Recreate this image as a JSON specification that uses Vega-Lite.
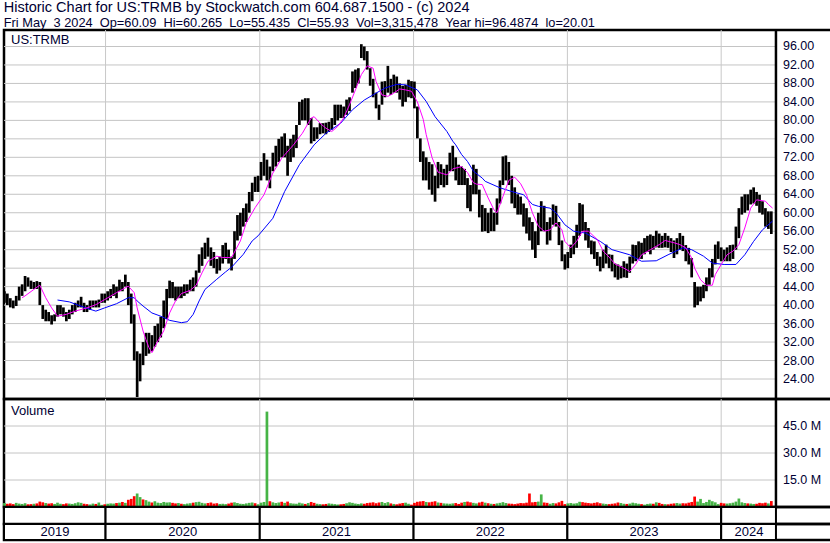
{
"$schema": "https://vega.github.io/schema/vega-lite/v6.json",
"padding": {"left": 0, "top": 0, "right": 0, "bottom": 0},
"background": "white",
"spacing": 0,
"bounds": "flush",
"title": {"text": "Historic Chart for US:TRMB by Stockwatch.com 604.687.1500 - (c) 2024", "subtitle": "Fri May \u00a03 2024 \u00a0Op=60.09 \u00a0Hi=60.265 \u00a0Lo=55.435 \u00a0Cl=55.93 \u00a0Vol=3,315,478 \u00a0Year hi=96.4874 \u00a0lo=20.01", "anchor": "start", "frame": "bounds", "font": "Liberation Sans", "fontSize": 14.5, "lineHeight": 15, "fontWeight": "normal", "color": "#000033", "subtitleFont": "Liberation Sans", "subtitleFontSize": 12.8, "subtitleLineHeight": 13, "subtitleColor": "#000033", "subtitlePadding": 1, "offset": -3, "dx": 3},
"config": {"view": {"stroke": "black", "strokeWidth": 2.5}, "axis": {"labelOverlap": false, "grid": false}},
"resolve": {"scale": {"x": "independent", "y": "independent", "color": "independent"}},
"datasets": {
"px": [
{"d":"2019-05-06","lo":40.5,"hi":43,"v":2.2,"c":"g"},
{"d":"2019-05-13","lo":40,"hi":42.5,"v":1.8,"c":"r"},
{"d":"2019-05-20","lo":39.5,"hi":41.5,"v":2,"c":"r"},
{"d":"2019-05-27","lo":39.3,"hi":41,"v":1.6,"c":"r"},
{"d":"2019-06-03","lo":39.8,"hi":42,"v":2.3,"c":"g"},
{"d":"2019-06-10","lo":41,"hi":44,"v":1.9,"c":"g"},
{"d":"2019-06-17","lo":42,"hi":44.5,"v":1.7,"c":"g"},
{"d":"2019-06-24","lo":43,"hi":46.3,"v":2.1,"c":"g"},
{"d":"2019-07-01","lo":44,"hi":46,"v":1.5,"c":"r"},
{"d":"2019-07-08","lo":43.5,"hi":45.3,"v":1.6,"c":"r"},
{"d":"2019-07-15","lo":43.5,"hi":45,"v":1.8,"c":"g"},
{"d":"2019-07-22","lo":43.5,"hi":45.2,"v":2,"c":"r"},
{"d":"2019-07-29","lo":40,"hi":45,"v":3,"c":"r"},
{"d":"2019-08-05","lo":37,"hi":40,"v":2.6,"c":"r"},
{"d":"2019-08-12","lo":36.5,"hi":39,"v":2.2,"c":"g"},
{"d":"2019-08-19","lo":36.5,"hi":38.5,"v":1.9,"c":"r"},
{"d":"2019-08-26","lo":35.8,"hi":37.8,"v":2.1,"c":"r"},
{"d":"2019-09-02","lo":36.5,"hi":38,"v":1.7,"c":"g"},
{"d":"2019-09-09","lo":37.5,"hi":40,"v":2.4,"c":"g"},
{"d":"2019-09-16","lo":38,"hi":40,"v":1.8,"c":"g"},
{"d":"2019-09-23","lo":37.5,"hi":39.5,"v":1.6,"c":"r"},
{"d":"2019-09-30","lo":36.5,"hi":38.5,"v":2,"c":"r"},
{"d":"2019-10-07","lo":37,"hi":39,"v":1.9,"c":"g"},
{"d":"2019-10-14","lo":38,"hi":40,"v":1.7,"c":"g"},
{"d":"2019-10-21","lo":38.5,"hi":40.5,"v":2.1,"c":"g"},
{"d":"2019-10-28","lo":39.5,"hi":41,"v":2.6,"c":"g"},
{"d":"2019-11-04","lo":39.5,"hi":41.8,"v":2.3,"c":"g"},
{"d":"2019-11-11","lo":38.5,"hi":40.5,"v":1.8,"c":"r"},
{"d":"2019-11-18","lo":38.5,"hi":40,"v":1.6,"c":"r"},
{"d":"2019-11-25","lo":39,"hi":41,"v":1.4,"c":"g"},
{"d":"2019-12-02","lo":39.5,"hi":41,"v":1.9,"c":"g"},
{"d":"2019-12-09","lo":39.5,"hi":41,"v":1.7,"c":"r"},
{"d":"2019-12-16","lo":39.5,"hi":41.2,"v":2.5,"c":"g"},
{"d":"2019-12-23","lo":40.5,"hi":42.5,"v":1.2,"c":"g"},
{"d":"2019-12-30","lo":40.5,"hi":42.5,"v":1.5,"c":"r"},
{"d":"2020-01-06","lo":41,"hi":43,"v":1.8,"c":"g"},
{"d":"2020-01-13","lo":41.5,"hi":43.5,"v":2,"c":"g"},
{"d":"2020-01-20","lo":42,"hi":44.5,"v":1.9,"c":"g"},
{"d":"2020-01-27","lo":41.5,"hi":44,"v":2.2,"c":"r"},
{"d":"2020-02-03","lo":43,"hi":45.5,"v":2.4,"c":"g"},
{"d":"2020-02-10","lo":43,"hi":45,"v":2.8,"c":"r"},
{"d":"2020-02-17","lo":44,"hi":46.6,"v":2.3,"c":"g"},
{"d":"2020-02-24","lo":40,"hi":45,"v":4,"c":"r"},
{"d":"2020-03-02","lo":36,"hi":42.5,"v":4.5,"c":"r"},
{"d":"2020-03-09","lo":28,"hi":38,"v":6,"c":"r"},
{"d":"2020-03-16","lo":20.1,"hi":30,"v":7.5,"c":"g"},
{"d":"2020-03-23","lo":23.5,"hi":29.5,"v":5.5,"c":"g"},
{"d":"2020-03-30","lo":27,"hi":32,"v":4.2,"c":"r"},
{"d":"2020-04-06","lo":29,"hi":34,"v":3.8,"c":"g"},
{"d":"2020-04-13","lo":29.5,"hi":34,"v":3,"c":"g"},
{"d":"2020-04-20","lo":30,"hi":33.5,"v":2.5,"c":"r"},
{"d":"2020-04-27","lo":31,"hi":35.5,"v":3.2,"c":"g"},
{"d":"2020-05-04","lo":32,"hi":36,"v":2.4,"c":"g"},
{"d":"2020-05-11","lo":33,"hi":37.5,"v":2.2,"c":"g"},
{"d":"2020-05-18","lo":35,"hi":41,"v":2.8,"c":"g"},
{"d":"2020-05-25","lo":37,"hi":43.5,"v":2.5,"c":"g"},
{"d":"2020-06-01","lo":41.5,"hi":45.3,"v":2.6,"c":"g"},
{"d":"2020-06-08","lo":41.5,"hi":45,"v":2.3,"c":"r"},
{"d":"2020-06-15","lo":41,"hi":44,"v":2,"c":"r"},
{"d":"2020-06-22","lo":41.5,"hi":44,"v":2.2,"c":"g"},
{"d":"2020-06-29","lo":41.5,"hi":44,"v":1.8,"c":"r"},
{"d":"2020-07-06","lo":42,"hi":44.5,"v":1.6,"c":"g"},
{"d":"2020-07-13","lo":42.5,"hi":44.5,"v":1.9,"c":"g"},
{"d":"2020-07-20","lo":43,"hi":45.5,"v":2.1,"c":"g"},
{"d":"2020-07-27","lo":43,"hi":46,"v":2.4,"c":"r"},
{"d":"2020-08-03","lo":44,"hi":47.5,"v":2.7,"c":"g"},
{"d":"2020-08-10","lo":47,"hi":51,"v":2.9,"c":"g"},
{"d":"2020-08-17","lo":48.5,"hi":52.5,"v":2.3,"c":"g"},
{"d":"2020-08-24","lo":50,"hi":53.5,"v":2,"c":"g"},
{"d":"2020-08-31","lo":50.5,"hi":54.6,"v":2.2,"c":"r"},
{"d":"2020-09-07","lo":48.5,"hi":52.5,"v":2.5,"c":"r"},
{"d":"2020-09-14","lo":48,"hi":51.5,"v":1.9,"c":"r"},
{"d":"2020-09-21","lo":46.8,"hi":50,"v":2.1,"c":"r"},
{"d":"2020-09-28","lo":47.5,"hi":50.5,"v":1.7,"c":"g"},
{"d":"2020-10-05","lo":49,"hi":53,"v":1.8,"c":"g"},
{"d":"2020-10-12","lo":50,"hi":53.5,"v":1.6,"c":"g"},
{"d":"2020-10-19","lo":49,"hi":52,"v":1.9,"c":"r"},
{"d":"2020-10-26","lo":47.5,"hi":50.5,"v":2.4,"c":"r"},
{"d":"2020-11-02","lo":50,"hi":56,"v":2.6,"c":"g"},
{"d":"2020-11-09","lo":54,"hi":59.5,"v":2.2,"c":"g"},
{"d":"2020-11-16","lo":55,"hi":60,"v":1.8,"c":"g"},
{"d":"2020-11-23","lo":57,"hi":61,"v":1.7,"c":"g"},
{"d":"2020-11-30","lo":58,"hi":62,"v":2,"c":"g"},
{"d":"2020-12-07","lo":60,"hi":64.5,"v":2.3,"c":"g"},
{"d":"2020-12-14","lo":62.5,"hi":66.5,"v":2.5,"c":"g"},
{"d":"2020-12-21","lo":64.5,"hi":67.8,"v":2.1,"c":"r"},
{"d":"2020-12-28","lo":64.5,"hi":68,"v":1.5,"c":"g"},
{"d":"2021-01-04","lo":67,"hi":71,"v":2.4,"c":"g"},
{"d":"2021-01-11","lo":68,"hi":72.9,"v":2.8,"c":"g"},
{"d":"2021-01-18","lo":67,"hi":71.5,"v":53,"c":"g"},
{"d":"2021-01-25","lo":65.3,"hi":70,"v":3.2,"c":"r"},
{"d":"2021-02-01","lo":69,"hi":73,"v":2.6,"c":"g"},
{"d":"2021-02-08","lo":70,"hi":74.5,"v":2.2,"c":"g"},
{"d":"2021-02-15","lo":71,"hi":76,"v":2.5,"c":"g"},
{"d":"2021-02-22","lo":72,"hi":76.5,"v":2.9,"c":"r"},
{"d":"2021-03-01","lo":72,"hi":77.2,"v":2.3,"c":"g"},
{"d":"2021-03-08","lo":68,"hi":74.5,"v":3,"c":"r"},
{"d":"2021-03-15","lo":71,"hi":76,"v":2.1,"c":"g"},
{"d":"2021-03-22","lo":72,"hi":76.9,"v":1.9,"c":"g"},
{"d":"2021-03-29","lo":74,"hi":79,"v":1.8,"c":"g"},
{"d":"2021-04-05","lo":79,"hi":84,"v":2.4,"c":"g"},
{"d":"2021-04-12","lo":80,"hi":84.5,"v":2,"c":"g"},
{"d":"2021-04-19","lo":80,"hi":84.8,"v":1.7,"c":"r"},
{"d":"2021-04-26","lo":79,"hi":84.8,"v":2.2,"c":"g"},
{"d":"2021-05-03","lo":75,"hi":80.5,"v":2.8,"c":"r"},
{"d":"2021-05-10","lo":75.5,"hi":78.5,"v":2.3,"c":"r"},
{"d":"2021-05-17","lo":76,"hi":78.5,"v":1.8,"c":"g"},
{"d":"2021-05-24","lo":77,"hi":79.4,"v":1.6,"c":"g"},
{"d":"2021-05-31","lo":77.2,"hi":79.4,"v":1.5,"c":"r"},
{"d":"2021-06-07","lo":77,"hi":79.5,"v":1.7,"c":"r"},
{"d":"2021-06-14","lo":77.5,"hi":79.7,"v":2,"c":"g"},
{"d":"2021-06-21","lo":78,"hi":80.5,"v":1.8,"c":"g"},
{"d":"2021-06-28","lo":79,"hi":83.4,"v":1.6,"c":"g"},
{"d":"2021-07-05","lo":80,"hi":83.4,"v":1.4,"c":"g"},
{"d":"2021-07-12","lo":80.5,"hi":83.4,"v":1.5,"c":"r"},
{"d":"2021-07-19","lo":80.5,"hi":83,"v":1.7,"c":"r"},
{"d":"2021-07-26","lo":81.2,"hi":84.5,"v":2.1,"c":"g"},
{"d":"2021-08-02","lo":82,"hi":85,"v":2.6,"c":"g"},
{"d":"2021-08-09","lo":86,"hi":90.6,"v":2.3,"c":"g"},
{"d":"2021-08-16","lo":87,"hi":91,"v":1.9,"c":"g"},
{"d":"2021-08-23","lo":88,"hi":91.3,"v":1.7,"c":"g"},
{"d":"2021-08-30","lo":93.5,"hi":96.5,"v":2,"c":"g"},
{"d":"2021-09-06","lo":93,"hi":96,"v":1.8,"c":"r"},
{"d":"2021-09-13","lo":91,"hi":95,"v":2.2,"c":"r"},
{"d":"2021-09-20","lo":87.5,"hi":91.3,"v":2.4,"c":"r"},
{"d":"2021-09-27","lo":85,"hi":89,"v":2.6,"c":"r"},
{"d":"2021-10-04","lo":82.6,"hi":86,"v":2.1,"c":"r"},
{"d":"2021-10-11","lo":80.1,"hi":83.4,"v":2.5,"c":"r"},
{"d":"2021-10-18","lo":83.4,"hi":88.4,"v":2.8,"c":"g"},
{"d":"2021-10-25","lo":85,"hi":88.5,"v":2.2,"c":"g"},
{"d":"2021-11-01","lo":86,"hi":91.8,"v":2.7,"c":"g"},
{"d":"2021-11-08","lo":85.5,"hi":89,"v":2,"c":"r"},
{"d":"2021-11-15","lo":86,"hi":89.9,"v":1.7,"c":"g"},
{"d":"2021-11-22","lo":86,"hi":89.5,"v":1.5,"c":"r"},
{"d":"2021-11-29","lo":84.5,"hi":88,"v":1.9,"c":"r"},
{"d":"2021-12-06","lo":83,"hi":87.5,"v":2.2,"c":"r"},
{"d":"2021-12-13","lo":84,"hi":87.7,"v":2.4,"c":"g"},
{"d":"2021-12-20","lo":85,"hi":88.8,"v":1.8,"c":"g"},
{"d":"2021-12-27","lo":84.8,"hi":88.5,"v":1.3,"c":"r"},
{"d":"2022-01-03","lo":82.6,"hi":88.4,"v":2.3,"c":"r"},
{"d":"2022-01-10","lo":76.1,"hi":83,"v":2.9,"c":"r"},
{"d":"2022-01-17","lo":71,"hi":76.1,"v":3.1,"c":"r"},
{"d":"2022-01-24","lo":67,"hi":73.3,"v":3.3,"c":"r"},
{"d":"2022-01-31","lo":67,"hi":72,"v":2.8,"c":"g"},
{"d":"2022-02-07","lo":65,"hi":71,"v":2.6,"c":"r"},
{"d":"2022-02-14","lo":63.9,"hi":70.5,"v":2.9,"c":"r"},
{"d":"2022-02-21","lo":62.4,"hi":68,"v":3.2,"c":"r"},
{"d":"2022-02-28","lo":65.3,"hi":71,"v":2.5,"c":"g"},
{"d":"2022-03-07","lo":66,"hi":70.5,"v":2.3,"c":"r"},
{"d":"2022-03-14","lo":65.5,"hi":69.5,"v":2,"c":"g"},
{"d":"2022-03-21","lo":66,"hi":70.4,"v":1.9,"c":"g"},
{"d":"2022-03-28","lo":69,"hi":73,"v":1.8,"c":"g"},
{"d":"2022-04-04","lo":69,"hi":74.5,"v":2,"c":"g"},
{"d":"2022-04-11","lo":67,"hi":72,"v":2.2,"c":"r"},
{"d":"2022-04-18","lo":66,"hi":70.4,"v":1.7,"c":"r"},
{"d":"2022-04-25","lo":66,"hi":70,"v":2.4,"c":"r"},
{"d":"2022-05-02","lo":66,"hi":69.5,"v":2.8,"c":"g"},
{"d":"2022-05-09","lo":61,"hi":67.5,"v":3,"c":"r"},
{"d":"2022-05-16","lo":60.3,"hi":66,"v":2.6,"c":"r"},
{"d":"2022-05-23","lo":64,"hi":70.4,"v":2.3,"c":"g"},
{"d":"2022-05-30","lo":64,"hi":69.5,"v":2,"c":"g"},
{"d":"2022-06-06","lo":59,"hi":65,"v":2.5,"c":"r"},
{"d":"2022-06-13","lo":55.9,"hi":61.7,"v":2.9,"c":"r"},
{"d":"2022-06-20","lo":56,"hi":61,"v":2.4,"c":"g"},
{"d":"2022-06-27","lo":55.6,"hi":60,"v":2.1,"c":"r"},
{"d":"2022-07-04","lo":56,"hi":61,"v":1.8,"c":"g"},
{"d":"2022-07-11","lo":56,"hi":60,"v":1.7,"c":"r"},
{"d":"2022-07-18","lo":57.4,"hi":63.1,"v":2,"c":"g"},
{"d":"2022-07-25","lo":62,"hi":67,"v":2.3,"c":"g"},
{"d":"2022-08-01","lo":66,"hi":72.2,"v":2.7,"c":"g"},
{"d":"2022-08-08","lo":67,"hi":72.4,"v":2.2,"c":"g"},
{"d":"2022-08-15","lo":66,"hi":71,"v":1.9,"c":"r"},
{"d":"2022-08-22","lo":62,"hi":68,"v":1.8,"c":"r"},
{"d":"2022-08-29","lo":61,"hi":65.5,"v":1.6,"c":"r"},
{"d":"2022-09-05","lo":59.6,"hi":64,"v":1.9,"c":"r"},
{"d":"2022-09-12","lo":59.6,"hi":63.5,"v":2.2,"c":"r"},
{"d":"2022-09-19","lo":57,"hi":62,"v":2.1,"c":"r"},
{"d":"2022-09-26","lo":55.5,"hi":61,"v":2.4,"c":"r"},
{"d":"2022-10-03","lo":54,"hi":59,"v":7.5,"c":"r"},
{"d":"2022-10-10","lo":52,"hi":58,"v":2.6,"c":"r"},
{"d":"2022-10-17","lo":50.2,"hi":56,"v":2.8,"c":"r"},
{"d":"2022-10-24","lo":53,"hi":60,"v":3,"c":"g"},
{"d":"2022-10-31","lo":56,"hi":62.5,"v":7,"c":"g"},
{"d":"2022-11-07","lo":56,"hi":61.5,"v":2.5,"c":"r"},
{"d":"2022-11-14","lo":53.1,"hi":58,"v":2.3,"c":"r"},
{"d":"2022-11-21","lo":54,"hi":59,"v":1.8,"c":"g"},
{"d":"2022-11-28","lo":57.4,"hi":61.8,"v":2.2,"c":"g"},
{"d":"2022-12-05","lo":57,"hi":61.5,"v":2,"c":"r"},
{"d":"2022-12-12","lo":53,"hi":58,"v":2.6,"c":"r"},
{"d":"2022-12-19","lo":49.5,"hi":54,"v":3.4,"c":"r"},
{"d":"2022-12-26","lo":47.7,"hi":51,"v":1.6,"c":"r"},
{"d":"2023-01-02","lo":48,"hi":51.5,"v":2,"c":"g"},
{"d":"2023-01-09","lo":50.2,"hi":53.1,"v":2.2,"c":"g"},
{"d":"2023-01-16","lo":51,"hi":55,"v":1.9,"c":"g"},
{"d":"2023-01-23","lo":52.4,"hi":57.4,"v":2.1,"c":"g"},
{"d":"2023-01-30","lo":55,"hi":62.1,"v":2.9,"c":"g"},
{"d":"2023-02-06","lo":56,"hi":61.8,"v":2.7,"c":"r"},
{"d":"2023-02-13","lo":54,"hi":58,"v":2.4,"c":"r"},
{"d":"2023-02-20","lo":52.4,"hi":56.7,"v":2.2,"c":"r"},
{"d":"2023-02-27","lo":51,"hi":54,"v":2,"c":"r"},
{"d":"2023-03-06","lo":50,"hi":53.8,"v":2.3,"c":"r"},
{"d":"2023-03-13","lo":48.5,"hi":51.5,"v":2.6,"c":"r"},
{"d":"2023-03-20","lo":47.3,"hi":50.5,"v":2.1,"c":"r"},
{"d":"2023-03-27","lo":48,"hi":52,"v":1.9,"c":"g"},
{"d":"2023-04-03","lo":49,"hi":53.1,"v":1.7,"c":"g"},
{"d":"2023-04-10","lo":48,"hi":51,"v":1.6,"c":"r"},
{"d":"2023-04-17","lo":47.3,"hi":50.9,"v":1.8,"c":"r"},
{"d":"2023-04-24","lo":46,"hi":49,"v":2,"c":"r"},
{"d":"2023-05-01","lo":45.5,"hi":48.8,"v":2.5,"c":"r"},
{"d":"2023-05-08","lo":45.8,"hi":48.5,"v":2.2,"c":"g"},
{"d":"2023-05-15","lo":46,"hi":49.5,"v":1.8,"c":"g"},
{"d":"2023-05-22","lo":45.9,"hi":49,"v":1.7,"c":"r"},
{"d":"2023-05-29","lo":47,"hi":50.5,"v":1.9,"c":"g"},
{"d":"2023-06-05","lo":49,"hi":53.1,"v":2.4,"c":"g"},
{"d":"2023-06-12","lo":49.5,"hi":53,"v":2.1,"c":"g"},
{"d":"2023-06-19","lo":50,"hi":53.8,"v":1.8,"c":"g"},
{"d":"2023-06-26","lo":50,"hi":53.5,"v":1.6,"c":"r"},
{"d":"2023-07-03","lo":51,"hi":54.5,"v":1.3,"c":"g"},
{"d":"2023-07-10","lo":51.5,"hi":55,"v":1.7,"c":"g"},
{"d":"2023-07-17","lo":51,"hi":55.3,"v":1.9,"c":"g"},
{"d":"2023-07-24","lo":52,"hi":55,"v":1.8,"c":"r"},
{"d":"2023-07-31","lo":52.5,"hi":56.1,"v":2.6,"c":"g"},
{"d":"2023-08-07","lo":52.4,"hi":55.5,"v":2.3,"c":"r"},
{"d":"2023-08-14","lo":52.4,"hi":55,"v":1.7,"c":"r"},
{"d":"2023-08-21","lo":52.5,"hi":55.6,"v":1.6,"c":"g"},
{"d":"2023-08-28","lo":52.4,"hi":55,"v":1.5,"c":"r"},
{"d":"2023-09-04","lo":51.5,"hi":54.5,"v":1.8,"c":"r"},
{"d":"2023-09-11","lo":50.2,"hi":54,"v":2,"c":"r"},
{"d":"2023-09-18","lo":51,"hi":54.5,"v":2.2,"c":"g"},
{"d":"2023-09-25","lo":52,"hi":55.6,"v":1.9,"c":"g"},
{"d":"2023-10-02","lo":51.7,"hi":55,"v":2.1,"c":"r"},
{"d":"2023-10-09","lo":49.5,"hi":53,"v":2,"c":"r"},
{"d":"2023-10-16","lo":48.8,"hi":52.4,"v":2.4,"c":"r"},
{"d":"2023-10-23","lo":46,"hi":50.2,"v":2.8,"c":"r"},
{"d":"2023-10-30","lo":39.5,"hi":45,"v":5.8,"c":"r"},
{"d":"2023-11-06","lo":40,"hi":44,"v":3,"c":"g"},
{"d":"2023-11-13","lo":40.8,"hi":44,"v":4.5,"c":"g"},
{"d":"2023-11-20","lo":41.5,"hi":44.4,"v":2.2,"c":"g"},
{"d":"2023-11-27","lo":43,"hi":46,"v":2.8,"c":"g"},
{"d":"2023-12-04","lo":44.4,"hi":48,"v":4,"c":"g"},
{"d":"2023-12-11","lo":46,"hi":50,"v":3.2,"c":"g"},
{"d":"2023-12-18","lo":48.8,"hi":53.1,"v":2.6,"c":"g"},
{"d":"2023-12-25","lo":50,"hi":53.8,"v":1.6,"c":"g"},
{"d":"2024-01-01","lo":49.5,"hi":52.5,"v":2.3,"c":"r"},
{"d":"2024-01-08","lo":49.5,"hi":52,"v":2,"c":"r"},
{"d":"2024-01-15","lo":49.5,"hi":52.5,"v":1.9,"c":"g"},
{"d":"2024-01-22","lo":49.5,"hi":53,"v":2.1,"c":"g"},
{"d":"2024-01-29","lo":50,"hi":53.1,"v":2.4,"c":"g"},
{"d":"2024-02-05","lo":52,"hi":57,"v":3,"c":"g"},
{"d":"2024-02-12","lo":54.5,"hi":61,"v":4.7,"c":"g"},
{"d":"2024-02-19","lo":59.6,"hi":63.5,"v":2.6,"c":"g"},
{"d":"2024-02-26","lo":60,"hi":64,"v":2.2,"c":"g"},
{"d":"2024-03-04","lo":60.5,"hi":64,"v":2,"c":"r"},
{"d":"2024-03-11","lo":61.8,"hi":65,"v":1.9,"c":"g"},
{"d":"2024-03-18","lo":62,"hi":65.5,"v":1.7,"c":"g"},
{"d":"2024-03-25","lo":61.5,"hi":64.5,"v":1.8,"c":"r"},
{"d":"2024-04-01","lo":60,"hi":63.9,"v":2.3,"c":"r"},
{"d":"2024-04-08","lo":59.6,"hi":62.5,"v":2.1,"c":"r"},
{"d":"2024-04-15","lo":57,"hi":61,"v":2.4,"c":"r"},
{"d":"2024-04-22","lo":56.5,"hi":60.3,"v":2,"c":"g"},
{"d":"2024-04-29","lo":55.4,"hi":60.3,"v":3.3,"c":"r"}
],
"ma1": [
{"d":"2019-06-17","v":41.6},{"d":"2019-06-24","v":42},{"d":"2019-07-15","v":43.4},{"d":"2019-07-29","v":44.3},{"d":"2019-08-12","v":41.6},{"d":"2019-08-26","v":39.4},{"d":"2019-09-09","v":37.6},{"d":"2019-09-30","v":38},{"d":"2019-10-21","v":38.7},{"d":"2019-11-18","v":39.4},{"d":"2019-12-09","v":40.1},{"d":"2019-12-30","v":41.2},{"d":"2020-01-27","v":42.7},{"d":"2020-02-24","v":44.1},{"d":"2020-03-09","v":42.7},{"d":"2020-03-16","v":39.4},{"d":"2020-03-30","v":34.4},{"d":"2020-04-06","v":32.5},{"d":"2020-04-13","v":30.8},{"d":"2020-04-20","v":29.7},{"d":"2020-05-04","v":32.2},{"d":"2020-05-18","v":34.4},{"d":"2020-06-01","v":38.3},{"d":"2020-06-15","v":40.9},{"d":"2020-06-29","v":42.5},{"d":"2020-07-20","v":43.2},{"d":"2020-08-03","v":44.3},{"d":"2020-08-17","v":47},{"d":"2020-08-31","v":49.5},{"d":"2020-09-21","v":50.6},{"d":"2020-10-05","v":50.3},{"d":"2020-10-26","v":50.3},{"d":"2020-11-16","v":53.9},{"d":"2020-11-30","v":57.8},{"d":"2020-12-21","v":61.1},{"d":"2021-01-11","v":63.9},{"d":"2021-02-01","v":68.6},{"d":"2021-02-22","v":71.8},{"d":"2021-03-22","v":74.7},{"d":"2021-04-12","v":77.2},{"d":"2021-05-03","v":80.5},{"d":"2021-05-10","v":80.8},{"d":"2021-05-24","v":79.4},{"d":"2021-06-07","v":78.3},{"d":"2021-06-21","v":77.6},{"d":"2021-07-05","v":78.7},{"d":"2021-07-19","v":80.5},{"d":"2021-08-02","v":83.4},{"d":"2021-08-16","v":86.6},{"d":"2021-08-30","v":89.9},{"d":"2021-09-13","v":91.8},{"d":"2021-09-27","v":91.3},{"d":"2021-10-04","v":88.4},{"d":"2021-10-18","v":85.5},{"d":"2021-11-01","v":85.2},{"d":"2021-11-15","v":85.9},{"d":"2021-11-29","v":86.8},{"d":"2021-12-13","v":86.6},{"d":"2021-12-27","v":86.3},{"d":"2022-01-10","v":84},{"d":"2022-01-24","v":80.2},{"d":"2022-01-31","v":76.9},{"d":"2022-02-14","v":71.9},{"d":"2022-02-28","v":68.8},{"d":"2022-03-21","v":68.2},{"d":"2022-04-04","v":69.5},{"d":"2022-04-25","v":70},{"d":"2022-05-09","v":68.7},{"d":"2022-05-23","v":66.5},{"d":"2022-05-30","v":66.2},{"d":"2022-06-13","v":66.1},{"d":"2022-06-27","v":63.2},{"d":"2022-07-11","v":60.6},{"d":"2022-07-18","v":60},{"d":"2022-08-01","v":63.5},{"d":"2022-08-15","v":67},{"d":"2022-08-29","v":67.7},{"d":"2022-09-12","v":66.3},{"d":"2022-09-26","v":63.9},{"d":"2022-10-10","v":60},{"d":"2022-10-24","v":57.1},{"d":"2022-11-07","v":56},{"d":"2022-11-21","v":56.3},{"d":"2022-12-05","v":57.8},{"d":"2022-12-19","v":56.3},{"d":"2022-12-26","v":53.8},{"d":"2023-01-09","v":52.4},{"d":"2023-01-23","v":53.8},{"d":"2023-02-06","v":56},{"d":"2023-02-20","v":56},{"d":"2023-03-13","v":54.2},{"d":"2023-03-27","v":51.7},{"d":"2023-04-10","v":50.4},{"d":"2023-04-24","v":48.9},{"d":"2023-05-15","v":48},{"d":"2023-05-29","v":47.3},{"d":"2023-06-12","v":48.8},{"d":"2023-06-26","v":50.9},{"d":"2023-07-17","v":52},{"d":"2023-08-07","v":53.1},{"d":"2023-08-21","v":54},{"d":"2023-09-11","v":53.5},{"d":"2023-09-25","v":53.1},{"d":"2023-10-09","v":52.4},{"d":"2023-10-23","v":50.2},{"d":"2023-10-30","v":48},{"d":"2023-11-13","v":45.5},{"d":"2023-11-27","v":44.3},{"d":"2023-12-11","v":44.3},{"d":"2023-12-18","v":46.6},{"d":"2024-01-01","v":48.8},{"d":"2024-01-15","v":50.9},{"d":"2024-01-29","v":51.7},{"d":"2024-02-12","v":53.1},{"d":"2024-02-26","v":56.7},{"d":"2024-03-11","v":61},{"d":"2024-03-25","v":62.8},{"d":"2024-04-15","v":62.5},{"d":"2024-04-22","v":61.8},{"d":"2024-05-02","v":61}
],
"ma2": [
{"d":"2019-09-09","v":41.1},{"d":"2019-10-07","v":40.7},{"d":"2019-10-28","v":40},{"d":"2019-11-25","v":39.1},{"d":"2019-12-09","v":38.7},{"d":"2019-12-30","v":39.4},{"d":"2020-01-27","v":40.3},{"d":"2020-02-24","v":41.6},{"d":"2020-03-09","v":41.6},{"d":"2020-03-16","v":40.9},{"d":"2020-03-30","v":39.8},{"d":"2020-04-20","v":38.3},{"d":"2020-05-11","v":37.6},{"d":"2020-06-01","v":36.7},{"d":"2020-06-29","v":36.2},{"d":"2020-07-13","v":36.4},{"d":"2020-07-27","v":38},{"d":"2020-08-10","v":40.9},{"d":"2020-08-24","v":43.4},{"d":"2020-09-21","v":45.6},{"d":"2020-10-12","v":47.2},{"d":"2020-10-26","v":48.2},{"d":"2020-11-23","v":51},{"d":"2020-12-14","v":53.9},{"d":"2020-12-28","v":55},{"d":"2021-02-01","v":58.8},{"d":"2021-03-01","v":64.6},{"d":"2021-04-05","v":70.4},{"d":"2021-05-10","v":74.7},{"d":"2021-06-07","v":77.2},{"d":"2021-07-12","v":79.4},{"d":"2021-08-09","v":82.3},{"d":"2021-09-06","v":84.4},{"d":"2021-10-04","v":85.9},{"d":"2021-10-25","v":87},{"d":"2021-11-22","v":87.8},{"d":"2021-12-13","v":87.7},{"d":"2022-01-10","v":86.6},{"d":"2022-01-31","v":84.1},{"d":"2022-02-21","v":80.8},{"d":"2022-03-21","v":77.6},{"d":"2022-04-04","v":75.5},{"d":"2022-04-11","v":74.7},{"d":"2022-04-25","v":72.6},{"d":"2022-05-09","v":71.1},{"d":"2022-05-23","v":69},{"d":"2022-06-13","v":67.5},{"d":"2022-06-20","v":66.8},{"d":"2022-07-25","v":65.4},{"d":"2022-08-22","v":64.6},{"d":"2022-09-19","v":63.9},{"d":"2022-10-10","v":61.8},{"d":"2022-10-24","v":61.4},{"d":"2022-11-21","v":61},{"d":"2022-12-05","v":60},{"d":"2022-12-26","v":57.4},{"d":"2023-01-16","v":56},{"d":"2023-02-13","v":55.6},{"d":"2023-03-20","v":53.8},{"d":"2023-04-17","v":52},{"d":"2023-05-29","v":50.9},{"d":"2023-06-26","v":49.5},{"d":"2023-07-31","v":49.6},{"d":"2023-08-28","v":50.9},{"d":"2023-10-02","v":52.4},{"d":"2023-10-23","v":52},{"d":"2023-11-20","v":50.6},{"d":"2023-12-11","v":49.1},{"d":"2024-01-08","v":48.8},{"d":"2024-02-05","v":48.8},{"d":"2024-02-26","v":50.9},{"d":"2024-03-18","v":53.8},{"d":"2024-04-08","v":56.3},{"d":"2024-05-02","v":58.2}
],
"pgrid": [{"g":24,"t":"24.00"},{"g":28,"t":"28.00"},{"g":32,"t":"32.00"},{"g":36,"t":"36.00"},{"g":40,"t":"40.00"},{"g":44,"t":"44.00"},{"g":48,"t":"48.00"},{"g":52,"t":"52.00"},{"g":56,"t":"56.00"},{"g":60,"t":"60.00"},{"g":64,"t":"64.00"},{"g":68,"t":"68.00"},{"g":72,"t":"72.00"},{"g":76,"t":"76.00"},{"g":80,"t":"80.00"},{"g":84,"t":"84.00"},{"g":88,"t":"88.00"},{"g":92,"t":"92.00"},{"g":96,"t":"96.00"}],
"pgl": [
{"g":24,"d":"2019-05-05"},{"g":24,"d":"2024-05-10"},{"g":28,"d":"2019-05-05"},{"g":28,"d":"2024-05-10"},{"g":32,"d":"2019-05-05"},{"g":32,"d":"2024-05-10"},{"g":36,"d":"2019-05-05"},{"g":36,"d":"2024-05-10"},{"g":40,"d":"2019-05-05"},{"g":40,"d":"2024-05-10"},{"g":44,"d":"2019-05-05"},{"g":44,"d":"2024-05-10"},{"g":48,"d":"2019-05-05"},{"g":48,"d":"2024-05-10"},{"g":52,"d":"2019-05-05"},{"g":52,"d":"2024-05-10"},{"g":56,"d":"2019-05-05"},{"g":56,"d":"2024-05-10"},{"g":60,"d":"2019-05-05"},{"g":60,"d":"2024-05-10"},{"g":64,"d":"2019-05-05"},{"g":64,"d":"2024-05-10"},{"g":68,"d":"2019-05-05"},{"g":68,"d":"2024-05-10"},{"g":72,"d":"2019-05-05"},{"g":72,"d":"2024-05-10"},{"g":76,"d":"2019-05-05"},{"g":76,"d":"2024-05-10"},{"g":80,"d":"2019-05-05"},{"g":80,"d":"2024-05-10"},{"g":84,"d":"2019-05-05"},{"g":84,"d":"2024-05-10"},{"g":88,"d":"2019-05-05"},{"g":88,"d":"2024-05-10"},{"g":92,"d":"2019-05-05"},{"g":92,"d":"2024-05-10"},{"g":96,"d":"2019-05-05"},{"g":96,"d":"2024-05-10"}
],
"vgrid": [{"g":15,"t":"15.0 M"},{"g":30,"t":"30.0 M"},{"g":45,"t":"45.0 M"}],
"vgl": [{"g":15,"d":"2019-05-05"},{"g":15,"d":"2024-05-10"},{"g":30,"d":"2019-05-05"},{"g":30,"d":"2024-05-10"},{"g":45,"d":"2019-05-05"},{"g":45,"d":"2024-05-10"}],
"ygrid": [{"s":"2020-01-01"},{"s":"2021-01-01"},{"s":"2022-01-01"},{"s":"2023-01-01"},{"s":"2024-01-01"}],
"yrs": [
{"s":"2019-05-05","e":"2020-01-01","m":"2019-09-03","y":"2019"},
{"s":"2020-01-01","e":"2021-01-01","m":"2020-07-02","y":"2020"},
{"s":"2021-01-01","e":"2022-01-01","m":"2021-07-02","y":"2021"},
{"s":"2022-01-01","e":"2023-01-01","m":"2022-07-02","y":"2022"},
{"s":"2023-01-01","e":"2024-01-01","m":"2023-07-02","y":"2023"},
{"s":"2024-01-01","e":"2024-05-10","m":"2024-03-07","y":"2024"}
]
},
"vconcat": [
{
"width": 828, "height": 369,
"layer": [
{"data": {"name": "pgl"}, "mark": {"type": "line", "color": "#c4c4c4", "strokeWidth": 1},
 "encoding": {
  "x": {"field": "d", "type": "temporal", "scale": {"domain": [{"year": 2019, "month": 5, "date": 5, "utc": true}, {"year": 2024, "month": 9, "date": 20, "utc": true}]}, "axis": null},
  "y": {"field": "g", "type": "quantitative", "scale": {"domain": [19.67, 99.57], "nice": false, "zero": false}, "axis": null},
  "detail": {"field": "g", "type": "nominal"}
 }},
{"data": {"name": "ygrid"}, "mark": {"type": "rule", "color": "#c8c8c8", "strokeWidth": 1},
 "encoding": {
  "x": {"field": "s", "type": "temporal"},
  "y": {"datum": 19.67, "type": "quantitative"},
  "y2": {"datum": 99.57}
 }},
{"data": {"name": "px"}, "mark": {"type": "rule", "strokeWidth": 2.7, "color": "black"},
 "encoding": {
  "x": {"field": "d", "type": "temporal"},
  "y": {"field": "lo", "type": "quantitative"},
  "y2": {"field": "hi"}
 }},
{"data": {"name": "ma2"}, "mark": {"type": "line", "color": "#0000ff", "strokeWidth": 1},
 "encoding": {"x": {"field": "d", "type": "temporal"}, "y": {"field": "v", "type": "quantitative"}}},
{"data": {"name": "ma1"}, "mark": {"type": "line", "color": "#ff00ff", "strokeWidth": 1},
 "encoding": {"x": {"field": "d", "type": "temporal"}, "y": {"field": "v", "type": "quantitative"}}},
{"data": {"values": [{"t": "edge"}]}, "mark": {"type": "rule", "color": "black", "strokeWidth": 2.5},
 "encoding": {"x": {"datum": {"year": 2024, "month": 5, "date": 10, "utc": true}, "type": "temporal"}, "y": {"datum": 19.67, "type": "quantitative"}, "y2": {"datum": 99.57}}},
{"data": {"name": "pgrid"}, "mark": {"type": "text", "align": "left", "baseline": "middle", "dx": 7, "font": "Liberation Sans", "fontSize": 12.5, "color": "#000033"},
 "encoding": {"x": {"datum": {"year": 2024, "month": 5, "date": 10, "utc": true}, "type": "temporal"}, "y": {"field": "g", "type": "quantitative"}, "text": {"field": "t"}}},
{"data": {"values": [{"t": "US:TRMB"}]}, "mark": {"type": "text", "align": "left", "baseline": "top", "dx": 7, "dy": 4, "font": "Liberation Sans", "fontSize": 13, "color": "#000033"},
 "encoding": {"x": {"datum": {"year": 2019, "month": 5, "date": 5, "utc": true}, "type": "temporal"}, "y": {"datum": 99.57, "type": "quantitative"}, "text": {"field": "t"}}}
]
},
{
"width": 828, "height": 108,
"layer": [
{"data": {"name": "vgl"}, "mark": {"type": "line", "color": "#c4c4c4", "strokeWidth": 1},
 "encoding": {
  "x": {"field": "d", "type": "temporal", "scale": {"domain": [{"year": 2019, "month": 5, "date": 5, "utc": true}, {"year": 2024, "month": 9, "date": 20, "utc": true}]}, "axis": null},
  "y": {"field": "g", "type": "quantitative", "scale": {"domain": [0, 60], "nice": false}, "axis": null},
  "detail": {"field": "g", "type": "nominal"}
 }},
{"data": {"name": "ygrid"}, "mark": {"type": "rule", "color": "#c8c8c8", "strokeWidth": 1},
 "encoding": {
  "x": {"field": "s", "type": "temporal"},
  "y": {"datum": 0, "type": "quantitative"},
  "y2": {"datum": 60}
 }},
{"data": {"name": "px"}, "mark": {"type": "rule", "strokeWidth": 2.7},
 "encoding": {
  "x": {"field": "d", "type": "temporal"},
  "y": {"field": "v", "type": "quantitative"},
  "y2": {"datum": 0},
  "color": {"field": "c", "type": "nominal", "scale": {"domain": ["g", "r"], "range": ["#46b446", "#ff0000"]}, "legend": null}
 }},
{"data": {"values": [{"t": "edge"}]}, "mark": {"type": "rule", "color": "black", "strokeWidth": 2.5},
 "encoding": {"x": {"datum": {"year": 2024, "month": 5, "date": 10, "utc": true}, "type": "temporal"}, "y": {"datum": 0, "type": "quantitative"}, "y2": {"datum": 60}}},
{"data": {"name": "vgrid"}, "mark": {"type": "text", "align": "left", "baseline": "middle", "dx": 7, "font": "Liberation Sans", "fontSize": 12.5, "color": "#000033"},
 "encoding": {"x": {"datum": {"year": 2024, "month": 5, "date": 10, "utc": true}, "type": "temporal"}, "y": {"field": "g", "type": "quantitative"}, "text": {"field": "t"}}},
{"data": {"values": [{"t": "Volume"}]}, "mark": {"type": "text", "align": "left", "baseline": "top", "dx": 7, "dy": 6, "font": "Liberation Sans", "fontSize": 13, "color": "#000033"},
 "encoding": {"x": {"datum": {"year": 2019, "month": 5, "date": 5, "utc": true}, "type": "temporal"}, "y": {"datum": 60, "type": "quantitative"}, "text": {"field": "t"}}}
]
},
{
"width": 828, "height": 17,
"data": {"name": "yrs"},
"mark": {"type": "rect", "fill": "white", "stroke": "black", "strokeWidth": 2},
"encoding": {
 "x": {"field": "s", "type": "temporal", "scale": {"domain": [{"year": 2019, "month": 5, "date": 5, "utc": true}, {"year": 2024, "month": 9, "date": 20, "utc": true}]}, "axis": null},
 "x2": {"field": "e"}
}
},
{
"width": 828, "height": 16,
"data": {"name": "yrs"},
"layer": [
{"mark": {"type": "rect", "fill": "white", "stroke": "black", "strokeWidth": 2},
 "encoding": {
  "x": {"field": "s", "type": "temporal", "scale": {"domain": [{"year": 2019, "month": 5, "date": 5, "utc": true}, {"year": 2024, "month": 9, "date": 20, "utc": true}]}, "axis": null},
  "x2": {"field": "e"}
 }},
{"mark": {"type": "text", "font": "Liberation Sans", "fontSize": 13, "color": "#000033", "baseline": "middle"},
 "encoding": {
  "x": {"field": "m", "type": "temporal"},
  "text": {"field": "y"}
 }}
]
}
]
}
